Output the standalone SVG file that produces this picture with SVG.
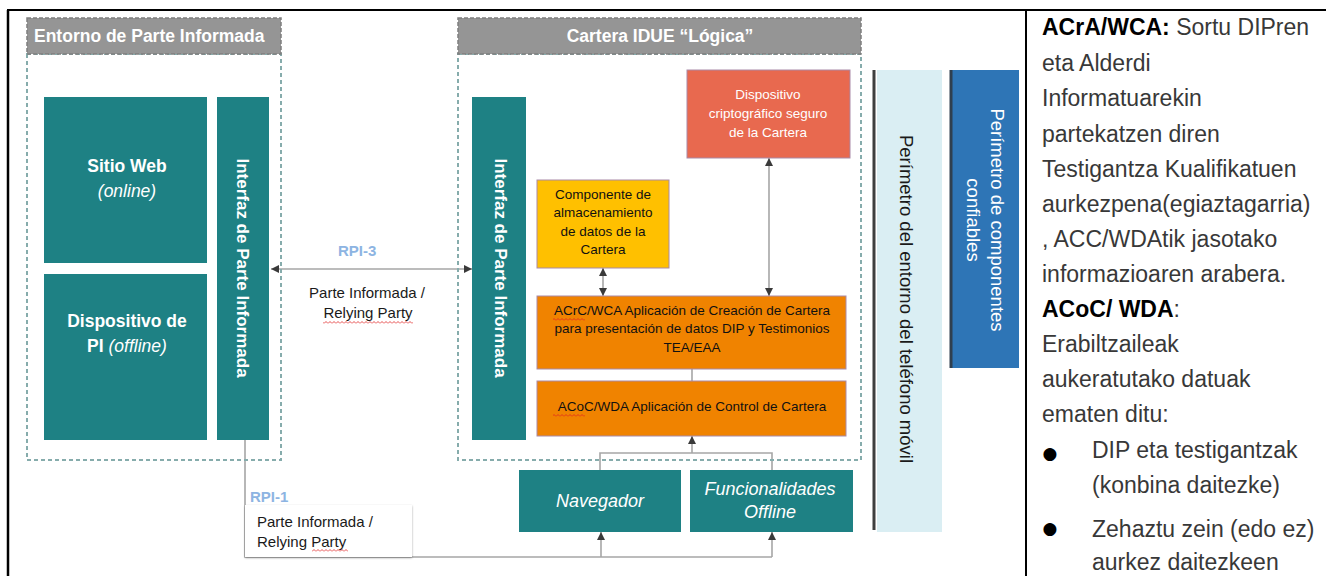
<svg xmlns="http://www.w3.org/2000/svg" width="1326" height="576" viewBox="0 0 1326 576">
<defs>
<style>
text{font-family:"Liberation Sans",Arial,sans-serif}
.hdr{fill:#959595;stroke:#7f7f7f;stroke-width:1.5;stroke-dasharray:4 2}
.dash{fill:none;stroke:#86acac;stroke-width:2;stroke-dasharray:4 3}
.teal{fill:#1e8184}
.wt{fill:#fff}
.bk{fill:#111}
.b{font-weight:bold}
.i{font-style:italic}
.c{text-anchor:middle}
.con{fill:none;stroke:#a6a6a6;stroke-width:1.6}
.rpi{fill:#8db4e2;font-weight:bold;font-size:15px}
.lbl{font-size:15px;fill:#1a1a1a}
.pan{font-size:23px;fill:#383838}
.bul{font-family:"DejaVu Sans",sans-serif;font-size:17px;fill:#000;text-anchor:middle}
.sq{fill:url(#sq)}
</style>
<marker id="ah" viewBox="0 0 10 10" refX="10" refY="5" markerWidth="8" markerHeight="8" markerUnits="userSpaceOnUse" orient="auto-start-reverse">
<path d="M0,0 L10,5 L0,10 z" fill="#3a3a3a"/>
</marker>
<pattern id="sq" width="4" height="3" patternUnits="userSpaceOnUse">
<path d="M0,2.5 L2,0.5 L4,2.5" fill="none" stroke="#e02020" stroke-width="0.8"/>
</pattern>
<filter id="sh" x="-5%" y="-5%" width="110%" height="120%">
<feDropShadow dx="0" dy="1" stdDeviation="0.8" flood-color="#000" flood-opacity="0.35"/>
</filter>
</defs>

<!-- frame -->
<g id="frame">
<line x1="7" y1="10" x2="1326" y2="10" stroke="#000" stroke-width="2"/>
<line x1="8" y1="10" x2="8" y2="576" stroke="#000" stroke-width="2.5"/>
<line x1="1026" y1="10" x2="1026" y2="576" stroke="#000" stroke-width="2"/>
</g>

<!-- connectors -->
<g id="connectors">
<line class="con" x1="271" y1="269" x2="472" y2="269" marker-start="url(#ah)" marker-end="url(#ah)"/>
<line class="con" x1="603" y1="268" x2="603" y2="296" marker-start="url(#ah)" marker-end="url(#ah)"/>
<line class="con" x1="769" y1="158" x2="769" y2="296" marker-start="url(#ah)" marker-end="url(#ah)"/>
<line class="con" x1="692" y1="369" x2="692" y2="381"/>
<path class="con" d="M600,470 V453 H772 V470"/>
<line class="con" x1="692" y1="453" x2="692" y2="436" marker-end="url(#ah)"/>
<path class="con" d="M245,440 V557 H772"/>
<line class="con" x1="601" y1="557" x2="601" y2="532" marker-end="url(#ah)"/>
<line class="con" x1="772" y1="557" x2="772" y2="532" marker-end="url(#ah)"/>
</g>

<!-- Entorno de Parte Informada -->
<g id="entorno">
<rect class="dash" x="27" y="54" width="254" height="406"/>
<rect class="hdr" x="27" y="18" width="254" height="36"/>
<text x="34" y="42" class="wt b" font-size="17.5">Entorno de Parte Informada</text>
</g>

<g id="sitio-web">
<rect class="teal" x="44" y="97" width="163" height="166"/>
<text x="127" y="172" class="wt b c" font-size="17.5">Sitio Web</text>
<text x="127" y="197" class="wt i c" font-size="17.5">(online)</text>
</g>

<g id="dispositivo-pi">
<rect class="teal" x="44" y="274" width="163" height="166"/>
<text x="127" y="327" class="wt b c" font-size="17.5">Dispositivo de</text>
<text x="127" y="352" class="wt c" font-size="17.5"><tspan class="b">PI</tspan> <tspan class="i">(offline)</tspan></text>
</g>

<g id="interfaz-left">
<rect class="teal" x="217" y="97" width="52" height="343"/>
<text transform="translate(243,268) rotate(90)" dy="0.35em" class="wt b c" font-size="17">Interfaz de Parte Informada</text>
</g>

<!-- RPI-3 label -->
<g id="rpi3">
<text x="338" y="256" class="rpi">RPI-3</text>
<text x="367" y="298" class="lbl c">Parte Informada /</text>
<text x="368" y="318" class="lbl c">Relying Party</text>
<rect class="sq" x="323" y="321" width="90" height="3"/>
</g>

<!-- Cartera -->
<g id="cartera">
<rect class="dash" x="458" y="54" width="403" height="406"/>
<rect class="hdr" x="458" y="18" width="403" height="36"/>
<text x="660" y="42" class="wt b c" font-size="17.5">Cartera IDUE “Lógica”</text>
</g>

<g id="interfaz-right">
<rect class="teal" x="472" y="97" width="54" height="343"/>
<text transform="translate(501,268) rotate(90)" dy="0.35em" class="wt b c" font-size="17">Interfaz de Parte Informada</text>
</g>

<g id="dispositivo-cripto">
<rect x="687" y="70" width="163" height="88" fill="#e8694f" stroke="#a98aa8" stroke-width="1"/>
<text x="768" y="99" class="wt c" font-size="13.5">Dispositivo</text>
<text x="768" y="118" class="wt c" font-size="13.5">criptográfico seguro</text>
<text x="768" y="137" class="wt c" font-size="13.5">de la Cartera</text>
</g>

<g id="componente">
<rect x="537" y="180" width="132" height="88" fill="#ffc000" stroke="#a98aa8" stroke-width="1"/>
<text x="603" y="199" class="bk c" font-size="13.5">Componente de</text>
<text x="603" y="217" class="bk c" font-size="13.5">almacenamiento</text>
<text x="603" y="236" class="bk c" font-size="13.5">de datos de la</text>
<text x="603" y="254" class="bk c" font-size="13.5">Cartera</text>
</g>

<g id="acrc">
<rect x="537" y="296" width="309" height="73" fill="#f08300" stroke="#a98aa8" stroke-width="1"/>
<text x="692" y="315" class="bk c" font-size="13.5">ACrC/WCA Aplicación de Creación de Cartera</text>
<text x="692" y="333" class="bk c" font-size="13.5">para presentación de datos DIP y Testimonios</text>
<text x="692" y="352" class="bk c" font-size="13.5">TEA/EAA</text>
<rect class="sq" x="553" y="318" width="32" height="3"/>
</g>

<g id="acoc">
<rect x="537" y="381" width="309" height="55" fill="#f08300" stroke="#a98aa8" stroke-width="1"/>
<text x="692" y="411" class="bk c" font-size="13.5">ACoC/WDA Aplicación de Control de Cartera</text>
<rect class="sq" x="553" y="414" width="32" height="3"/>
</g>

<g id="navegador">
<rect class="teal" x="519" y="470" width="162" height="62"/>
<text x="600" y="507" class="wt i c" font-size="18">Navegador</text>
</g>

<g id="funcionalidades">
<rect class="teal" x="690" y="470" width="163" height="62"/>
<text x="770" y="495" class="wt i c" font-size="18">Funcionalidades</text>
<text x="770" y="518" class="wt i c" font-size="18">Offline</text>
</g>

<!-- RPI-1 label -->
<g id="rpi1">
<text x="250" y="502" class="rpi">RPI-1</text>
<rect x="245" y="505" width="167" height="52" fill="#fff" filter="url(#sh)"/>
<text x="257" y="527" class="lbl">Parte Informada /</text>
<text x="257" y="547" class="lbl">Relying Party</text>
<rect class="sq" x="312" y="549" width="36" height="3"/>
</g>

<!-- Perimeters -->
<g id="perimetro-movil">
<rect x="877" y="70" width="65" height="462" fill="#daeef3"/>
<line x1="874" y1="70" x2="874" y2="530" stroke="#3f3f3f" stroke-width="3"/>
<text transform="translate(906,299) rotate(90)" dy="0.35em" class="c" font-size="18.5" fill="#1a1a1a">Perímetro del entorno del teléfono móvil</text>
</g>

<g id="perimetro-confiables">
<rect x="951" y="70" width="68" height="298" fill="#2e75b6"/>
<line x1="951" y1="70" x2="951" y2="368" stroke="#2f3f4f" stroke-width="3"/>
<text transform="translate(997,220) rotate(90)" dy="0.35em" class="wt c" font-size="18.5">Perímetro de componentes</text>
<text transform="translate(973,220) rotate(90)" dy="0.35em" class="wt c" font-size="18.5">confiables</text>
</g>

<!-- Right text panel -->
<g id="panel">
<text x="1042" y="35" class="pan"><tspan class="b" fill="#000">ACrA/WCA:</tspan> Sortu DIPren</text>
<text x="1042" y="71" class="pan">eta Alderdi</text>
<text x="1042" y="106" class="pan">Informatuarekin</text>
<text x="1042" y="142" class="pan">partekatzen diren</text>
<text x="1042" y="177" class="pan">Testigantza Kualifikatuen</text>
<text x="1042" y="212" class="pan">aurkezpena(egiaztagarria)</text>
<text x="1042" y="247" class="pan">, ACC/WDAtik jasotako</text>
<text x="1042" y="282" class="pan">informazioaren arabera.</text>
<text x="1042" y="317" class="pan"><tspan class="b" fill="#000">ACoC/ WDA</tspan>:</text>
<text x="1042" y="352" class="pan">Erabiltzaileak</text>
<text x="1042" y="387" class="pan">aukeratutako datuak</text>
<text x="1042" y="422" class="pan">ematen ditu:</text>
<text x="1050" y="459" class="bul">●</text>
<text x="1092" y="458" class="pan">DIP eta testigantzak</text>
<text x="1092" y="493" class="pan">(konbina daitezke)</text>
<text x="1050" y="534" class="bul">●</text>
<text x="1092" y="537" class="pan">Zehaztu zein (edo ez)</text>
<text x="1092" y="570" class="pan">aurkez daitezkeen</text>
</g>
</svg>
